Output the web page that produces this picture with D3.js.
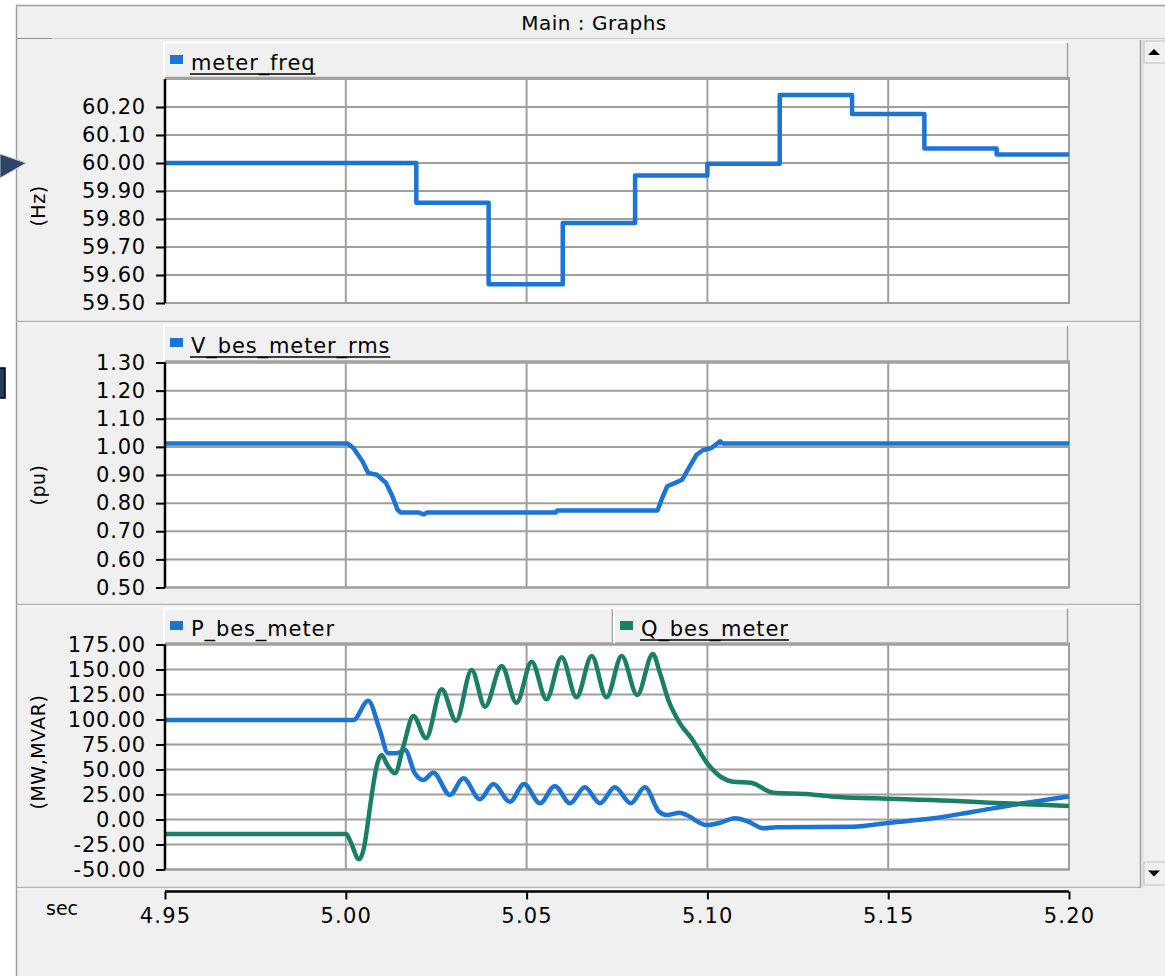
<!DOCTYPE html>
<html>
<head>
<meta charset="utf-8">
<script src="https://cdn.jsdelivr.net/npm/d3@7"></script>
<style>
  body { margin: 0; background: #fff; overflow: hidden; }
  svg { display: block; font-family: "DejaVu Sans", Verdana, sans-serif; }
</style>
</head>
<body>
<svg id="chart" width="1165" height="976"></svg>
<script>
// ---- data ----
const timeDomain = [4.95, 5.20];
const timeTicks = [4.95, 5.00, 5.05, 5.10, 5.15, 5.20];

const freqTicks = [59.5, 59.6, 59.7, 59.8, 59.9, 60.0, 60.1, 60.2];
const freqTime  = [4.95, 5.0195, 5.0395, 5.0600, 5.0800, 5.1000, 5.1200, 5.1400, 5.1600, 5.1800, 5.2000];
const freqValue = [60.00, 59.858, 59.567, 59.786, 59.955, 59.997, 60.243, 60.175, 60.052, 60.030, 60.030];

const voltTicks = [0.5, 0.6, 0.7, 0.8, 0.9, 1.0, 1.1, 1.2, 1.3];
const voltTime  = [4.95, 5.0005, 5.0021, 5.0046, 5.0062, 5.0086, 5.0111, 5.0127, 5.0143, 5.0151, 5.0200, 5.0216, 5.0225,
                   5.0581, 5.0585, 5.0862, 5.0873, 5.0889, 5.0914, 5.0930, 5.0946, 5.0970, 5.0987, 5.1011, 5.1035, 5.1043, 5.2000];
const voltValue = [1.012, 1.012, 0.996, 0.949, 0.907, 0.901, 0.872, 0.830, 0.777, 0.767, 0.767, 0.760, 0.767,
                   0.767, 0.774, 0.774, 0.812, 0.860, 0.874, 0.883, 0.919, 0.972, 0.988, 0.996, 1.020, 1.012, 1.012];

const powerTicks = [-50, -25, 0, 25, 50, 75, 100, 125, 150, 175];
const pTime  = [4.95, 5.0021, 5.0062, 5.0094, 5.0117, 5.0141, 5.0164, 5.0191, 5.0214, 5.0242, 5.0288, 5.0325, 5.0371,
                5.0408, 5.0454, 5.0493, 5.0537, 5.0578, 5.0620, 5.0661, 5.0703, 5.0744, 5.0788, 5.0827, 5.0866, 5.0887,
                5.0924, 5.0942, 5.0998, 5.1035, 5.1076, 5.1109, 5.1155, 5.1191, 5.1403, 5.1505, 5.1624, 5.1735, 5.1873, 5.2000];
const pValue = [99.5, 99.5, 118.8, 89.5, 66.2, 66.2, 69.5, 46.2, 39.5, 46.8, 24.5, 41.2, 20.2,
                35.5, 17.8, 35.5, 16.2, 33.5, 16.2, 32.2, 16.2, 32.2, 16.2, 32.2, 8.0, 4.5,
                6.8, 4.5, -5.5, -3.2, 1.2, -1.5, -8.8, -7.8, -7.2, -3.2, 1.2, 7.8, 16.2, 23.0];

const qTime  = [4.95, 5.0001, 5.0011, 5.0037, 5.0050, 5.0062, 5.0071, 5.0085, 5.0099, 5.0115, 5.0136, 5.0159, 5.0187,
                5.0222, 5.0265, 5.0305, 5.0348, 5.0385, 5.0431, 5.0472, 5.0514, 5.0555, 5.0597, 5.0638, 5.0680, 5.0721,
                5.0763, 5.0806, 5.0849, 5.0869, 5.0892, 5.0924, 5.0956, 5.0998, 5.1040, 5.1071, 5.1120, 5.1182, 5.1274,
                5.1348, 5.1468, 5.1670, 5.1781, 5.1938, 5.2000];
const qValue = [-14.5, -14.5, -20.5, -39.8, -28.8, -0.5, 22.8, 52.8, 64.5, 54.5, 46.2, 72.8, 103.5,
                81.2, 130.2, 98.8, 149.5, 112.8, 153.5, 116.8, 157.8, 120.2, 162.2, 122.2, 163.5, 122.2,
                163.5, 124.5, 165.5, 146.2, 119.5, 96.2, 81.2, 57.0, 42.0, 37.8, 36.8, 26.8, 25.5,
                22.8, 21.2, 18.8, 16.8, 14.5, 13.5];

// ---- look ----
const BLUE = "#1c74d4";
const GREEN = "#1a7f66";
const GRID = "#a29e9a";
const FRAME = "#a0a0a0";
const FONT = "DejaVu Sans, Verdana, sans-serif";
const plotX0 = 165, plotX1 = 1069;
const fmt = d => d.toFixed(2); // plain hyphen for negatives, like the original

const svg = d3.select("#chart");
const x = d3.scaleLinear().domain(timeDomain).range([plotX0, plotX1]);

// window chrome
svg.append("rect").attr("x", 16.5).attr("y", 5.5).attr("width", 1160).attr("height", 980)
  .attr("fill", "#f0f0f0").attr("stroke", FRAME).attr("stroke-width", 1.5);
svg.append("text").attr("x", 594).attr("y", 30).attr("text-anchor", "middle")
  .attr("font-size", 20).attr("letter-spacing", 0.5).attr("fill", "#000").text("Main : Graphs");
svg.append("line").attr("x1", 17).attr("x2", 1165).attr("y1", 38.5).attr("y2", 38.5).attr("stroke", "#c8c8c8");
svg.append("line").attr("x1", 17).attr("x2", 52).attr("y1", 38.5).attr("y2", 38.5).attr("stroke", "#909090");

// markers hanging in from the left edge
svg.append("polygon").attr("points", "0,154 26,163 0,178").attr("fill", "#2f4567").attr("stroke", "#b8c2d2");
svg.append("rect").attr("x", -2).attr("y", 368).attr("width", 7).attr("height", 30)
  .attr("fill", "#233b5c").attr("stroke", "#000").attr("stroke-width", 1.5);

// panel separators
[322, 605, 888].forEach(yy => {
  svg.append("line").attr("x1", 17).attr("x2", 1140).attr("y1", yy - 0.5).attr("y2", yy - 0.5).attr("stroke", "#b4b4b4").attr("stroke-width", 1.5);
  svg.append("line").attr("x1", 17).attr("x2", 1140).attr("y1", yy + 1).attr("y2", yy + 1).attr("stroke", "#fafafa");
});

// scrollbar
svg.append("line").attr("x1", 1140.5).attr("x2", 1140.5).attr("y1", 40).attr("y2", 888).attr("stroke", FRAME).attr("stroke-width", 1.5);
svg.append("line").attr("x1", 1143).attr("x2", 1143).attr("y1", 40).attr("y2", 888).attr("stroke", "#d6d6d6");
[[41, 63, 1], [862, 885, -1]].forEach(([y0, y1, dir]) => {
  svg.append("rect").attr("x", 1144).attr("y", y0).attr("width", 30).attr("height", y1 - y0)
    .attr("fill", "#f0f0f0").attr("stroke", "#c0c0c0");
  const cy = (y0 + y1) / 2, cx = 1154;
  const pts = dir > 0
    ? `${cx - 6},${cy + 3} ${cx + 6},${cy + 3} ${cx},${cy - 3}`
    : `${cx - 6},${cy - 3} ${cx + 6},${cy - 3} ${cx},${cy + 3}`;
  svg.append("polygon").attr("points", pts).attr("fill", "#000");
});

const defs = svg.append("defs");

const panels = [
  { top: 79, bottom: 303, legendTop: 43, domain: [59.5, 60.3], ticks: freqTicks, unit: "(Hz)", unitY: 206,
    series: [{ name: "meter_freq", t: freqTime, v: freqValue, color: BLUE, curve: d3.curveStepAfter, underline: true, box: [165, 1068] }] },
  { top: 362.5, bottom: 587.5, legendTop: 326, domain: [0.5, 1.3], ticks: voltTicks, unit: "(pu)", unitY: 485,
    series: [{ name: "V_bes_meter_rms", t: voltTime, v: voltValue, color: BLUE, curve: d3.curveLinear, underline: true, box: [165, 1068] }] },
  { top: 644.5, bottom: 869.5, legendTop: 609, domain: [-50, 175], ticks: powerTicks, unit: "(MW,MVAR)", unitY: 752,
    series: [
      { name: "P_bes_meter", t: pTime, v: pValue, color: BLUE, curve: d3.curveMonotoneX, underline: false, box: [165, 613] },
      { name: "Q_bes_meter", t: qTime, v: qValue, color: GREEN, curve: d3.curveMonotoneX, underline: true, box: [615, 1068] }
    ] }
];

panels.forEach((p, i) => {
  const y = d3.scaleLinear().domain(p.domain).range([p.bottom, p.top]);
  const g = svg.append("g");

  // legend boxes
  p.series.forEach(s => {
    const [bx0, bx1] = s.box, by0 = p.legendTop, by1 = p.top - 1;
    g.append("rect").attr("x", bx0).attr("y", by0).attr("width", bx1 - bx0).attr("height", by1 - by0).attr("fill", "#f0f0f0");
    g.append("path").attr("d", `M${bx0 - 1},${by1} V${by0 - 0.5} H${bx1}`).attr("fill", "none").attr("stroke", "#fff").attr("stroke-width", 2);
    g.append("path").attr("d", `M${bx0},${by1 - 0.5} H${bx1 - 0.5} V${by0}`).attr("fill", "none").attr("stroke", FRAME).attr("stroke-width", 1.5);
    g.append("rect").attr("x", bx0 + 5).attr("y", by0 + 12).attr("width", 13).attr("height", 9).attr("fill", s.color);
    const label = g.append("text").attr("x", bx0 + 26).attr("y", by0 + 27).attr("font-size", 21)
      .attr("letter-spacing", 0.9).attr("fill", "#000").text(s.name);
    if (s.underline) {
      const len = label.node().getComputedTextLength();
      g.append("line").attr("x1", bx0 + 25).attr("x2", bx0 + 26 + len).attr("y1", by0 + 31).attr("y2", by0 + 31)
        .attr("stroke", "#000").attr("stroke-width", 1.6);
    }
  });

  // plot background and grid
  g.append("rect").attr("x", plotX0).attr("y", p.top).attr("width", plotX1 - plotX0).attr("height", p.bottom - p.top).attr("fill", "#fff");
  g.append("g").selectAll("line").data(p.ticks.concat(p.domain[1])).join("line")
    .attr("x1", plotX0).attr("x2", plotX1).attr("y1", d => y(d)).attr("y2", d => y(d))
    .attr("stroke", GRID).attr("stroke-width", 2);
  g.append("g").selectAll("line").data(timeTicks.slice(1, -1)).join("line")
    .attr("x1", d => x(d)).attr("x2", d => x(d)).attr("y1", p.top).attr("y2", p.bottom)
    .attr("stroke", GRID).attr("stroke-width", 2);
  g.append("path").attr("d", `M${plotX1},${p.top - 2} V${p.bottom} H${plotX0}`)
    .attr("fill", "none").attr("stroke", GRID).attr("stroke-width", 2);

  // series
  const clipId = "clip" + i;
  defs.append("clipPath").attr("id", clipId).append("rect")
    .attr("x", plotX0).attr("y", p.top - 3).attr("width", plotX1 - plotX0 + 1).attr("height", p.bottom - p.top + 4);
  p.series.forEach(s => {
    const line = d3.line().x(d => x(d[0])).y(d => y(d[1])).curve(s.curve);
    g.append("path").datum(d3.zip(s.t, s.v)).attr("d", line)
      .attr("clip-path", `url(#${clipId})`)
      .attr("fill", "none").attr("stroke", s.color).attr("stroke-width", 4.5).attr("stroke-linejoin", "round");
  });

  // left axis
  const axis = d3.axisLeft(y).tickValues(p.ticks).tickSize(9).tickPadding(10).tickFormat(fmt);
  const ag = g.append("g").attr("transform", `translate(${plotX0},0)`).call(axis);
  ag.select(".domain").attr("d", `M0,${p.top} V${p.bottom}`).attr("stroke", "#000").attr("stroke-width", 2.5);
  ag.selectAll(".tick line").attr("stroke", "#000").attr("stroke-width", 2);
  ag.selectAll(".tick text").attr("font-size", 21).attr("letter-spacing", 0.8).attr("font-family", FONT).attr("fill", "#000");

  g.append("text").attr("transform", `translate(45,${p.unitY}) rotate(-90)`).attr("text-anchor", "middle")
    .attr("font-size", 19).attr("letter-spacing", 0.5).attr("fill", "#000").text(p.unit);
});

// time axis
const xAxis = d3.axisBottom(x).tickValues(timeTicks).tickSize(8).tickPadding(9).tickFormat(fmt);
const xg = svg.append("g").attr("transform", "translate(0,891.5)").call(xAxis);
xg.select(".domain").attr("d", `M${plotX0},0 H${plotX1}`).attr("stroke", "#000").attr("stroke-width", 2.5);
xg.selectAll(".tick line").attr("stroke", "#000").attr("stroke-width", 2);
xg.selectAll(".tick text").attr("font-size", 21).attr("letter-spacing", 1.2).attr("font-family", FONT).attr("fill", "#000");
svg.append("text").attr("x", 46).attr("y", 915).attr("font-size", 19).attr("fill", "#000").text("sec");
</script>
</body>
</html>
